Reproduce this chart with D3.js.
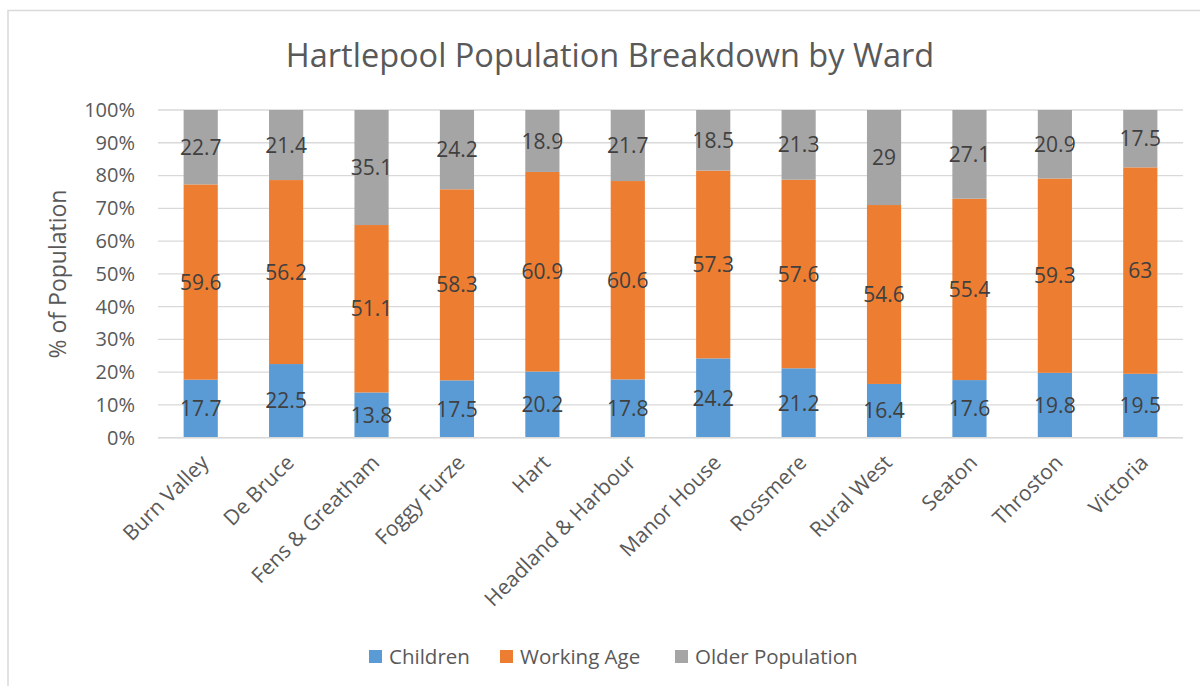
<!DOCTYPE html>
<html>
<head>
<meta charset="utf-8">
<script src="https://cdn.jsdelivr.net/npm/d3@7"></script>
<style>
  html, body { margin: 0; padding: 0; background: #fff; }
  svg { display: block; font-family: "Open Sans", "Noto Sans", sans-serif; }
</style>
</head>
<body>
<svg id="chart" width="1200" height="686"></svg>
<script>
const title = "Hartlepool Population Breakdown by Ward";
const yAxisTitle = "% of Population";
const categories = ["Burn Valley", "De Bruce", "Fens & Greatham", "Foggy Furze", "Hart", "Headland & Harbour", "Manor House", "Rossmere", "Rural West", "Seaton", "Throston", "Victoria"];
const seriesNames = ["Children", "Working Age", "Older Population"];
const children = [17.7, 22.5, 13.8, 17.5, 20.2, 17.8, 24.2, 21.2, 16.4, 17.6, 19.8, 19.5];
const workingAge = [59.6, 56.2, 51.1, 58.3, 60.9, 60.6, 57.3, 57.6, 54.6, 55.4, 59.3, 63];
const olderPopulation = [22.7, 21.4, 35.1, 24.2, 18.9, 21.7, 18.5, 21.3, 29, 27.1, 20.9, 17.5];
const yTicks = [0, 0.1, 0.2, 0.3, 0.4, 0.5, 0.6, 0.7, 0.8, 0.9, 1.0];
const colors = ["#5b9bd5", "#ed7d31", "#a5a5a5"];

const rows = categories.map((c, i) => ({
  ward: c,
  "Children": children[i],
  "Working Age": workingAge[i],
  "Older Population": olderPopulation[i]
}));

const svg = d3.select("#chart");

// chart border
svg.append("rect")
  .attr("x", 8).attr("y", 10.5)
  .attr("width", 1400).attr("height", 900)
  .attr("fill", "none").attr("stroke", "#d9d9d9").attr("stroke-width", 1.5);

const plot = { left: 158, right: 1183, top: 110, bottom: 437.7 };

const x = d3.scaleBand().domain(categories)
  .range([plot.left, plot.right]).paddingInner(0.6).paddingOuter(0.3);
const y = d3.scaleLinear().domain([0, 1]).range([plot.bottom, plot.top]);

// gridlines
svg.append("g").selectAll("line").data(yTicks).join("line")
  .attr("x1", plot.left).attr("x2", plot.right)
  .attr("y1", d => y(d)).attr("y2", d => y(d))
  .attr("stroke", "#d9d9d9").attr("stroke-width", 1.3);

// y axis labels
const yAxis = d3.axisLeft(y).tickValues(yTicks).tickFormat(d3.format(".0%")).tickSize(0).tickPadding(0);
const yg = svg.append("g").attr("transform", `translate(${plot.left - 23},0)`).call(yAxis);
yg.select(".domain").remove();
yg.selectAll("text").attr("fill", "#595959").style("font-size", "20px").style("font-family", "'Open Sans', sans-serif");

// stacked bars
const stack = d3.stack().keys(seriesNames).offset(d3.stackOffsetExpand);
const stacked = stack(rows);

const layers = svg.append("g").selectAll("g").data(stacked).join("g")
  .attr("fill", (d, i) => colors[i]);

layers.selectAll("rect").data(d => d).join("rect")
  .attr("x", d => x(d.data.ward))
  .attr("width", x.bandwidth())
  .attr("y", d => y(d[1]))
  .attr("height", d => y(d[0]) - y(d[1]));

// data labels
const labels = svg.append("g");
stacked.forEach((layer) => {
  labels.selectAll(null).data(layer).join("text")
    .attr("x", d => x(d.data.ward) + x.bandwidth() / 2)
    .attr("y", d => y((d[0] + d[1]) / 2))
    .attr("dy", "0.36em")
    .attr("text-anchor", "middle")
    .attr("fill", "#404040")
    .style("font-size", "21px")
    .text(d => d.data[layer.key]);
});

// x axis line
svg.append("line")
  .attr("x1", plot.left).attr("x2", plot.right)
  .attr("y1", plot.bottom).attr("y2", plot.bottom)
  .attr("stroke", "#d9d9d9").attr("stroke-width", 1.5);

// x axis labels
svg.append("g").selectAll("text").data(categories).join("text")
  .attr("transform", d => `translate(${x(d) + x.bandwidth() / 2 + 4},${plot.bottom + 21}) rotate(-45)`)
  .attr("text-anchor", "end")
  .attr("dy", "0.35em")
  .attr("fill", "#595959")
  .style("font-size", "21px")
  .text(d => d);

// title
svg.append("text")
  .attr("x", 610).attr("y", 67)
  .attr("text-anchor", "middle")
  .attr("fill", "#595959")
  .style("font-size", "32.5px")
  .text(title);

// y axis title
svg.append("text")
  .attr("transform", `translate(58,274) rotate(-90)`)
  .attr("text-anchor", "middle")
  .attr("dy", "0.35em")
  .attr("fill", "#595959")
  .style("font-size", "23px")
  .text(yAxisTitle);

// legend
const legendX = [369, 500, 675];
const lg = svg.append("g").selectAll("g").data(seriesNames).join("g")
  .attr("transform", (d, i) => `translate(${legendX[i]},650)`);
lg.append("rect").attr("width", 13).attr("height", 13).attr("fill", (d, i) => colors[i]);
lg.append("text").attr("x", 20).attr("y", 6.5).attr("dy", "0.36em")
  .attr("fill", "#595959").style("font-size", "20.5px").text(d => d);
</script>
</body>
</html>
